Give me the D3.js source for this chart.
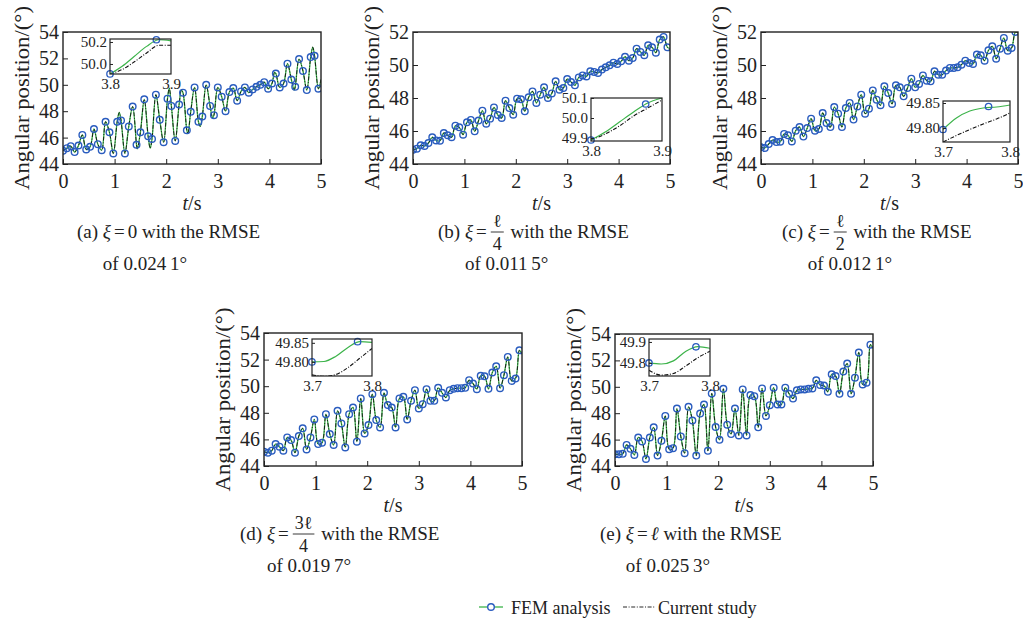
<!DOCTYPE html>
<html lang="en">
<head>
<meta charset="utf-8">
<title>Angular position</title>
<script src="https://d3js.org/d3.v7.min.js"></script>
<style>
  body { margin: 0; background: #fff; }
  svg { font-family: "Liberation Serif", "DejaVu Serif", serif; }
  svg text { font-family: "Liberation Serif", "DejaVu Serif", serif; fill: #222; white-space: pre; }
</style>
</head>
<body>
<script>
const W = 1023, H = 630;
const GREEN = "#3cb34a", BLUE = "#2a5cbf", INK = "#222";

// FEM sample times (s)
const tSample = [0, 0.075, 0.15, 0.225, 0.3, 0.375, 0.45, 0.525, 0.6, 0.675, 0.75, 0.825, 0.9, 0.975,
  1.05, 1.125, 1.2, 1.275, 1.35, 1.425, 1.5, 1.575, 1.65, 1.725, 1.8, 1.875, 1.95, 2.025, 2.1, 2.175,
  2.25, 2.325, 2.4, 2.475, 2.55, 2.625, 2.7, 2.775, 2.85, 2.925, 3.0, 3.075, 3.15, 3.225, 3.3, 3.375,
  3.45, 3.525, 3.6, 3.675, 3.75, 3.825, 3.9, 3.975, 4.05, 4.125, 4.2, 4.275, 4.35, 4.425, 4.5, 4.575,
  4.65, 4.725, 4.8, 4.875, 4.95];

// angular position (deg) at the FEM samples, one list per case
const femA = [45.0, 45.2, 45.35, 44.9, 45.4, 46.2, 45.1, 45.3, 46.65, 45.5, 45.05, 47.2, 46.4, 44.8,
  47.2, 47.3, 44.8, 46.85, 48.35, 45.45, 46.4, 48.9, 46.1, 45.9, 49.25, 47.35, 45.65, 48.95, 48.4, 45.75,
  48.5, 49.4, 46.55, 47.95, 49.8, 47.2, 47.6, 50.0, 48.4, 47.7, 49.8, 49.1, 48.0, 49.45, 49.75, 48.8,
  49.5, 49.8, 49.4, 49.65, 49.85, 50.0, 50.2, 49.7, 50.1, 50.85, 49.8, 50.1, 51.6, 50.4, 49.85, 51.95,
  51.05, 49.6, 52.1, 52.2, 49.7];
const femB = [44.87, 44.93, 45.13, 45.09, 45.27, 45.62, 45.43, 45.41, 45.88, 45.74, 45.62, 46.32, 46.22,
  45.78, 46.53, 46.67, 45.98, 46.63, 47.23, 46.44, 46.75, 47.43, 46.97, 46.79, 47.84, 47.39, 46.99, 47.96,
  47.92, 47.19, 48.04, 48.40, 47.70, 48.20, 48.65, 48.0, 48.28, 49.01, 48.5, 48.6, 49.15, 48.97, 48.77,
  49.25, 49.37, 49.31, 49.62, 49.58, 49.52, 49.72, 49.86, 49.98, 50.14, 50.06, 50.22, 50.5, 50.26, 50.42,
  50.99, 50.79, 50.59, 51.19, 51.07, 50.75, 51.54, 51.70, 51.07];
const femC = [45.01, 44.97, 45.21, 45.45, 45.33, 45.35, 45.82, 45.74, 45.37, 46.02, 46.24, 45.66, 46.18,
  46.75, 46.02, 46.12, 47.09, 46.48, 46.24, 47.45, 47.05, 46.24, 47.39, 47.70, 46.69, 47.49, 48.20, 47.05,
  47.35, 48.46, 47.90, 47.56, 48.71, 48.30, 47.64, 48.77, 48.65, 48.10, 48.61, 49.17, 48.65, 48.85, 49.37,
  49.05, 49.01, 49.62, 49.41, 49.41, 49.66, 49.82, 49.82, 49.86, 50.02, 50.26, 50.12, 50.06, 50.63, 50.59,
  50.26, 50.89, 51.13, 50.38, 50.99, 51.64, 50.87, 51.03, 52.0];
const femD = [45.08, 45.0, 45.15, 45.65, 45.45, 45.15, 46.15, 45.95, 45.0, 46.25, 46.83, 45.25, 46.15,
  47.5, 45.65, 45.75, 47.9, 46.4, 45.58, 48.15, 47.2, 45.4, 47.9, 48.4, 45.83, 49.08, 46.45, 47.08, 49.4,
  47.45, 46.9, 49.5, 48.58, 48.4, 46.9, 49.08, 49.2, 47.5, 48.9, 49.7, 48.33, 48.65, 49.78, 48.9, 48.9,
  49.88, 49.5, 49.15, 49.7, 49.8, 49.85, 49.85, 49.88, 50.45, 50.2, 49.78, 50.78, 50.75, 49.8, 51.03,
  51.5, 49.85, 50.83, 52.2, 50.4, 50.58, 52.7];
const femE = [44.89, 44.89, 44.92, 45.60, 45.30, 44.84, 46.16, 45.86, 44.53, 46.16, 46.93, 44.79, 45.91,
  47.79, 45.27, 45.35, 48.35, 46.24, 44.97, 48.48, 47.44, 44.79, 47.97, 48.66, 45.15, 49.50, 46.95, 45.98,
  49.85, 47.13, 46.42, 48.35, 46.32, 49.80, 46.32, 49.37, 49.29, 46.93, 49.88, 47.79, 48.61, 49.93, 48.66,
  48.66, 49.93, 49.47, 49.11, 49.73, 49.80, 49.80, 49.85, 49.88, 50.49, 50.13, 50.1, 49.62, 50.95, 50.82,
  49.47, 51.15, 51.76, 49.47, 50.69, 52.6, 50.18, 50.31, 53.19];

// turning points of the curves that fall between samples [t, deg]
const extraA = [[1.09, 47.9], [1.44, 45.15], [1.69, 45.2], [2.06, 49.75], [2.295, 49.6], [2.42, 46.3],
  [2.66, 46.85], [2.9, 47.5], [4.1, 50.95], [4.48, 49.6], [4.84, 52.85], [5.0, 50.4]];
const extraB = [[5.0, 51.0]];
const extraC = [[5.0, 51.95]];
const extraD = [[5.0, 52.4]];
const extraE = [[5.0, 52.9]];

// zoomed insets: times, FEM curve, current study curve, FEM markers
const insetT1 = [3.8, 3.82, 3.84, 3.86, 3.88, 3.9];
const insetT2 = [3.7, 3.72, 3.74, 3.76, 3.78, 3.8];
const insetFemA = [49.91, 49.98, 50.07, 50.16, 50.22, 50.21];
const insetCurA = [49.91, 49.95, 50.02, 50.10, 50.17, 50.17];
const insetMarkA = [[3.8, 49.91], [3.876, 50.22]];
const insetFemB = [49.89, 49.93, 49.98, 50.03, 50.075, 50.1];
const insetCurB = [49.89, 49.92, 49.96, 50.01, 50.05, 50.09];
const insetMarkB = [[3.8, 49.89], [3.877, 50.07]];
const insetFemC = [49.797, 49.82, 49.834, 49.84, 49.842, 49.846];
const insetCurC = [49.772, 49.785, 49.797, 49.808, 49.818, 49.83];
const insetMarkC = [[3.7, 49.797], [3.768, 49.843]];
const insetFemD = [49.80, 49.801, 49.815, 49.838, 49.853, 49.851];
const insetCurD = [49.766, 49.762, 49.767, 49.785, 49.81, 49.835];
const insetMarkD = [[3.7, 49.80], [3.776, 49.853]];
const insetFemE = [49.80, 49.795, 49.81, 49.855, 49.878, 49.87];
const insetCurE = [49.765, 49.742, 49.750, 49.785, 49.825, 49.856];
const insetMarkE = [[3.7, 49.80], [3.777, 49.877]];

// captions
const caseLabels = ["(a)", "(b)", "(c)", "(d)", "(e)"];
const xiValues = [{ plain: "0" }, { num: "\u2113", den: "4" }, { num: "\u2113", den: "2" },
  { num: "3\u2113", den: "4" }, { ital: "\u2113" }];
const rmseValues = ["0.024\u20091", "0.011\u20095", "0.012\u20091", "0.019\u20097", "0.025\u20093"];

const panels = [
  { x0: 63, x1: 321, y0: 32, y1: 164, yMax: 54, fem: femA, extra: extraA, capX: 77,
    inset: { x0: 110, x1: 171, y0: 39, y1: 74, t: insetT1, yd: [49.909, 50.227], yt: [50.0, 50.2], fmt: ".1f",
             fem: insetFemA, cur: insetCurA, marks: insetMarkA } },
  { x0: 413, x1: 670, y0: 32, y1: 164, yMax: 52, fem: femB, extra: extraB, capX: 438,
    inset: { x0: 591, x1: 662, y0: 98, y1: 141, t: insetT1, yd: [49.885, 50.1], yt: [49.9, 50.0, 50.1], fmt: ".1f",
             fem: insetFemB, cur: insetCurB, marks: insetMarkB } },
  { x0: 761, x1: 1018, y0: 32, y1: 164, yMax: 52, fem: femC, extra: extraC, capX: 782,
    inset: { x0: 943, x1: 1010, y0: 101, y1: 142, t: insetT2, yd: [49.772, 49.854], yt: [49.80, 49.85], fmt: ".2f",
             fem: insetFemC, cur: insetCurC, marks: insetMarkC } },
  { x0: 264, x1: 522, y0: 333, y1: 466, yMax: 54, fem: femD, extra: extraD, capX: 240,
    inset: { x0: 312, x1: 372, y0: 339, y1: 376, t: insetT2, yd: [49.763, 49.86], yt: [49.80, 49.85], fmt: ".2f",
             fem: insetFemD, cur: insetCurD, marks: insetMarkD } },
  { x0: 615, x1: 873, y0: 334, y1: 466, yMax: 54, fem: femE, extra: extraE, capX: 600,
    inset: { x0: 649, x1: 710, y0: 339, y1: 376, t: insetT2, yd: [49.738, 49.914], yt: [49.8, 49.9], fmt: ".1f",
             fem: insetFemE, cur: insetCurE, marks: insetMarkE } }
];

const svg = d3.select("body").append("svg").attr("width", W).attr("height", H);
const defs = svg.append("defs");

function styleAxis(g, size) {
  g.attr("font-family", null).attr("font-size", null);
  g.select(".domain").remove();
  g.selectAll(".tick line").attr("stroke", INK).attr("stroke-width", 1);
  g.selectAll(".tick text").style("font-size", size + "px").attr("fill", INK);
}

function drawInset(p, k) {
  const s = p.inset;
  const x = d3.scaleLinear().domain([s.t[0], s.t[s.t.length - 1]]).range([s.x0, s.x1]);
  const y = d3.scaleLinear().domain(s.yd).range([s.y1, s.y0]);
  const g = svg.append("g");
  g.append("rect").attr("x", s.x0).attr("y", s.y0).attr("width", s.x1 - s.x0).attr("height", s.y1 - s.y0)
    .attr("fill", "#fff");
  defs.append("clipPath").attr("id", "iclip" + k).append("rect")
    .attr("x", s.x0).attr("y", s.y0).attr("width", s.x1 - s.x0).attr("height", s.y1 - s.y0);
  const line = d3.line().x(d => x(d[0])).y(d => y(d[1])).curve(d3.curveMonotoneX);
  const cl = g.append("g").attr("clip-path", "url(#iclip" + k + ")");
  cl.append("path").attr("d", line(s.t.map((t, i) => [t, s.cur[i]])))
    .attr("fill", "none").attr("stroke", "#111").attr("stroke-width", 1.1).attr("stroke-dasharray", "4,1.6,1,1.6");
  cl.append("path").attr("d", line(s.t.map((t, i) => [t, s.fem[i]])))
    .attr("fill", "none").attr("stroke", GREEN).attr("stroke-width", 1.2);
  g.selectAll("circle.im").data(s.marks).join("circle").attr("class", "im")
    .attr("cx", d => x(d[0])).attr("cy", d => y(d[1])).attr("r", 3.2)
    .attr("fill", "none").attr("stroke", BLUE).attr("stroke-width", 1.3);
  const ya = g.append("g").attr("transform", `translate(${s.x0},0)`)
    .call(d3.axisLeft(y).tickValues(s.yt).tickFormat(d3.format(s.fmt)).tickSizeInner(-3).tickSizeOuter(0).tickPadding(3));
  styleAxis(ya, 15);
  const xa = g.append("g").attr("transform", `translate(0,${s.y1})`)
    .call(d3.axisBottom(x).tickValues([s.t[0], s.t[s.t.length - 1]]).tickFormat(d3.format(".1f")).tickSizeInner(0).tickSizeOuter(0).tickPadding(4));
  styleAxis(xa, 15);
  g.append("rect").attr("x", s.x0).attr("y", s.y0).attr("width", s.x1 - s.x0).attr("height", s.y1 - s.y0)
    .attr("fill", "none").attr("stroke", INK).attr("stroke-width", 1.2);
}

function drawPanel(p, k) {
  const x = d3.scaleLinear().domain([0, 5]).range([p.x0, p.x1]);
  const y = d3.scaleLinear().domain([44, p.yMax]).range([p.y1, p.y0]);
  const g = svg.append("g");
  defs.append("clipPath").attr("id", "clip" + k).append("rect")
    .attr("x", p.x0).attr("y", p.y0).attr("width", p.x1 - p.x0).attr("height", p.y1 - p.y0);

  const pts = tSample.map((t, i) => [t, p.fem[i]]).concat(p.extra).sort((a, b) => a[0] - b[0]);
  const line = d3.line().x(d => x(d[0])).y(d => y(d[1])).curve(d3.curveCatmullRom.alpha(0.5));
  const cl = g.append("g").attr("clip-path", "url(#clip" + k + ")");
  cl.append("path").attr("d", line(pts)).attr("fill", "none").attr("stroke", GREEN).attr("stroke-width", 1.3);
  cl.append("path").attr("d", line(pts)).attr("fill", "none").attr("stroke", "#111").attr("stroke-width", 0.9)
    .attr("stroke-dasharray", "4,1.6,1,1.6");
  cl.selectAll("circle").data(tSample).join("circle")
    .attr("cx", t => x(t)).attr("cy", (t, i) => y(p.fem[i])).attr("r", 3.3)
    .attr("fill", "none").attr("stroke", BLUE).attr("stroke-width", 1.4);

  const ya = g.append("g").attr("transform", `translate(${p.x0},0)`)
    .call(d3.axisLeft(y).tickValues(d3.range(44, p.yMax + 1, 2)).tickSizeInner(-5).tickSizeOuter(0).tickPadding(4));
  styleAxis(ya, 20);
  const xa = g.append("g").attr("transform", `translate(0,${p.y1})`)
    .call(d3.axisBottom(x).tickValues([0, 1, 2, 3, 4, 5]).tickFormat(d3.format("d"))
      .tickSizeInner(-5).tickSizeOuter(0).tickPadding(10));
  styleAxis(xa, 20);
  g.append("rect").attr("x", p.x0).attr("y", p.y0).attr("width", p.x1 - p.x0).attr("height", p.y1 - p.y0)
    .attr("fill", "none").attr("stroke", INK).attr("stroke-width", 1.4);

  // y label
  const cy = (p.y0 + p.y1) / 2;
  g.append("text").attr("transform", `translate(${p.x0 - 41},${cy}) rotate(-90)`)
    .attr("text-anchor", "middle").attr("dominant-baseline", "central")
    .attr("textLength", 184).attr("lengthAdjust", "spacingAndGlyphs")
    .style("font-size", "20px").text("Angular position/(\u00b0)");

  // x label t/s
  const cx = (p.x0 + p.x1) / 2;
  const xl = g.append("text").attr("x", cx).attr("y", p.y1 + 46).attr("text-anchor", "middle").style("font-size", "20px");
  xl.append("tspan").style("font-style", "italic").text("t");
  xl.append("tspan").text("/s");

  drawInset(p, k);
  drawCaption(p.capX, p.y1 + 74, p.y1 + 106, k);
}

function drawCaption(x0, yb, yb2, k) {
  const FS = 19;
  const g = svg.append("g");
  let x = x0;
  function add(txt, size, italic) {
    const t = g.append("text").attr("x", x).attr("y", yb).attr("xml:space", "preserve")
      .style("font-size", size + "px").text(txt);
    if (italic) t.style("font-style", "italic");
    return t.node().getComputedTextLength();
  }
  x += add(caseLabels[k] + " ", FS);
  const xiX = x;
  x += add("\u03be", FS, true) + 3;
  x += add("=", FS) + 3;
  const v = xiValues[k];
  if (v.plain) x += add(v.plain, FS);
  else if (v.ital) x += add(v.ital, FS, true);
  else {
    const startX = x + 1;
    const tn = g.append("text").style("font-size", "18px").text(v.num);
    const td = g.append("text").style("font-size", "18px").text(v.den);
    const wn = tn.node().getComputedTextLength(), wd = td.node().getComputedTextLength();
    const fw = Math.max(wn, wd) + 4;
    tn.attr("x", startX + fw / 2).attr("y", yb - 11).attr("text-anchor", "middle");
    td.attr("x", startX + fw / 2).attr("y", yb + 12).attr("text-anchor", "middle");
    g.append("line").attr("x1", startX).attr("x2", startX + fw).attr("y1", yb - 6).attr("y2", yb - 6)
      .attr("stroke", INK).attr("stroke-width", 0.9);
    x = startX + fw + 2;
  }
  add(" with the RMSE", FS);
  g.append("text").attr("x", xiX).attr("y", yb2).attr("xml:space", "preserve").style("font-size", FS + "px")
    .text("of " + rmseValues[k] + "\u00b0");
}

panels.forEach(drawPanel);

// legend
const lg = svg.append("g");
lg.append("line").attr("x1", 479).attr("x2", 503).attr("y1", 607).attr("y2", 607).attr("stroke", GREEN).attr("stroke-width", 1.3);
lg.append("circle").attr("cx", 491).attr("cy", 607).attr("r", 3.3).attr("fill", "#fff").attr("stroke", BLUE).attr("stroke-width", 1.4);
lg.append("text").attr("x", 511).attr("y", 614).style("font-size", "18px").text("FEM analysis");
lg.append("line").attr("x1", 623).attr("x2", 655).attr("y1", 607).attr("y2", 607).attr("stroke", "#111").attr("stroke-width", 0.9)
  .attr("stroke-dasharray", "4,1.6,1,1.6");
lg.append("text").attr("x", 658).attr("y", 614).style("font-size", "18px").text("Current study");
</script>
</body>
</html>
